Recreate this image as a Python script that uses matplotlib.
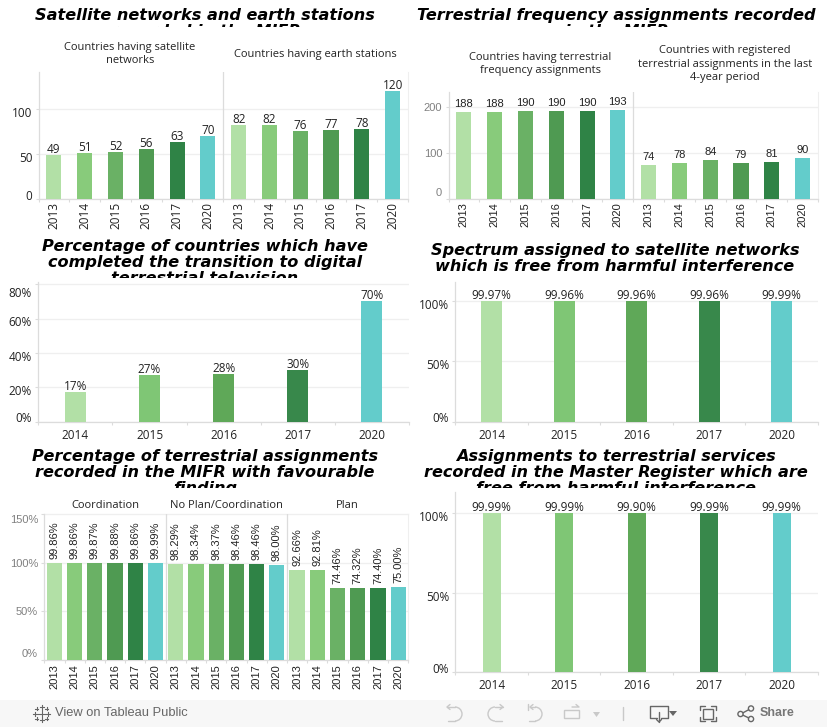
import matplotlib
matplotlib.use('Agg')
import matplotlib.pyplot as plt
from matplotlib.patches import Rectangle, Circle, Polygon, Arc
from matplotlib.transforms import Bbox, ScaledTranslation

W, H = 827, 727

# Data
years6 = ['2013', '2014', '2015', '2016', '2017', '2020']
years5 = ['2014', '2015', '2016', '2017', '2020']

satellite = [49, 51, 52, 56, 63, 70]
earth = [82, 82, 76, 77, 78, 120]
freq_assign = [188, 188, 190, 190, 190, 193]
registered = [74, 78, 84, 79, 81, 90]
digital_tv = [17, 27, 28, 30, 70]
spectrum_free = [99.97, 99.96, 99.96, 99.96, 99.99]
coordination = [99.86, 99.86, 99.87, 99.88, 99.86, 99.99]
no_plan = [98.29, 98.34, 98.37, 98.46, 98.46, 98.00]
plan = [92.66, 92.81, 74.46, 74.32, 74.40, 75.00]
master_free = [99.99, 99.99, 99.90, 99.99, 99.99]

title1 = 'Satellite networks and earth stations\nrecorded in the MIFR'
title2 = 'Terrestrial frequency assignments recorded\nin the MIFR'
title3 = 'Percentage of countries which have\ncompleted the transition to digital\nterrestrial television'
title4 = 'Spectrum assigned to satellite networks\nwhich is free from harmful interference'
title5 = 'Percentage of terrestrial assignments\nrecorded in the MIFR with favourable\nfinding'
title6 = 'Assignments to terrestrial services\nrecorded in the Master Register which are\nfree from harmful interference'

# Colours
six_a = ['#b2e0a6', '#88cb7b', '#6ab165', '#4f9a52', '#2f8346', '#63cccb']
five_b = ['#b2e0a6', '#7fc675', '#5fa858', '#38884b', '#63cccb']
GRID = '#efefef'
AXIS = '#dcdcdc'
INK = '#222222'
GREY = '#808080'

OPEN = 'Open Sans'
ARIAL = 'Liberation Sans'

fig = plt.figure(figsize=(W / 100, H / 100), dpi=100)
fig.patch.set_facecolor('white')

# overlay in pixel coords for titles, headers and footer
page = fig.add_axes([0, 0, 1, 1], zorder=-1)
page.set_xlim(0, W)
page.set_ylim(H, 0)
page.axis('off')


def panel(left, right, top, bottom, ymax, values, labels, colors, width, yticks,
          ylabels, yshift, fmt='{}', rotate=False, rotate_values=False, font=OPEN, ycolor=INK,
          dividers=(), border=False, gap=-1, xpad=2, size=8.5):
    ax = fig.add_axes([left / W, 1 - bottom / H, (right - left) / W, (bottom - top) / H])
    xs = list(range(len(values)))
    ax.bar(xs, values, width=width, color=colors, zorder=3)
    ax.set_xlim(-0.5, len(values) - 0.5)
    ax.set_ylim(0, ymax)

    ax.set_xticks(xs)
    ax.set_xticklabels(labels, rotation=90 if rotate else 0, fontfamily=font, fontsize=size, color=INK)
    ax.set_xticks([x - 0.5 for x in range(len(values) + 1)], minor=True)
    ax.tick_params(axis='x', which='major', length=0, pad=xpad)
    ax.tick_params(axis='x', which='minor', length=2.5, color=AXIS, width=0.8)

    ax.set_yticks(yticks)
    ax.set_yticklabels(ylabels, fontfamily=font, fontsize=size, color=ycolor)
    ax.tick_params(axis='y', length=2.5, color=AXIS, width=0.8, pad=2)
    # tableau nudges the axis labels so they stay inside the pane
    for lab, dy in zip(ax.get_yticklabels(), yshift):
        lab.set_transform(lab.get_transform() + ScaledTranslation(0, -dy / 100, fig.dpi_scale_trans))

    ax.grid(axis='y', color=GRID, linewidth=0.9, zorder=0)
    ax.set_axisbelow(True)
    for side in ['top', 'right']:
        ax.spines[side].set_visible(False)
    if border:
        ax.spines['right'].set_visible(True)
        ax.spines['right'].set_color(GRID)
    for side in ['left', 'bottom']:
        ax.spines[side].set_color(AXIS)
        ax.spines[side].set_linewidth(0.9)
    for d in dividers:
        ax.axvline(d, color=AXIS, linewidth=0.9, zorder=1)

    for x, v in zip(xs, values):
        ax.annotate(fmt.format(v), (x, v), xytext=(0, gap), textcoords='offset pixels',
                    ha='center', va='bottom', rotation=90 if rotate_values else 0,
                    fontfamily=font, fontsize=size, color=INK, zorder=4)
    return ax


def title(x, y, txt, clip_y):
    t = page.text(x, y, txt, ha='center', va='top', fontfamily='DejaVu Sans', fontweight='bold',
                  fontstyle='oblique', fontsize=11.6, color='black', linespacing=1.07,
                  multialignment='center', clip_on=True)
    t.set_clip_box(Bbox([[0, H - clip_y], [W, H]]))


def header(x, y, txt, font=OPEN):
    page.text(x, y, txt, ha='center', va='center', fontfamily=font, fontsize=8, color=INK,
              linespacing=1.35, multialignment='center')


# Top left
panel(38.5, 408, 72, 199, 141, satellite + earth, years6 + years6, six_a + six_a, 0.49,
      [0, 50, 100], ['0', '50', '100'], [-4, 3, 3], rotate=True, dividers=[5.5], border=True)
title(205, 8, title1, 27)
header(130, 54, 'Countries having satellite\nnetworks')
header(315, 54, 'Countries having earth stations')

# Top right
panel(448.5, 818, 92, 199.3, 232, freq_assign + registered, years6 + years6, six_a + six_a, 0.49,
      [0, 100, 200], ['0', '100', '200'], [-7, 0, 0], rotate=True, font=ARIAL, ycolor=GREY,
      dividers=[5.5], border=True, gap=3, size=8)
title(616.5, 8, title2, 27)
header(540, 64, 'Countries having terrestrial\nfrequency assignments')
header(725, 64, 'Countries with registered\nterrestrial assignments in the last\n4-year period')

# Middle left
panel(38.3, 409, 281.7, 421.7, 81.4, digital_tv, years5, five_b, 0.285,
      [0, 20, 40, 60, 80], ['0%', '20%', '40%', '60%', '80%'], [-4.6, 2.7, 2.7, 2.7, 8],
      fmt='{}%', xpad=5)
title(205, 239, title3, 278)

# Middle right
panel(455.3, 818, 281.7, 421.7, 116, spectrum_free, years5, five_b, 0.29,
      [0, 50, 100], ['0%', '50%', '100%'], [-4.6, 2.7, 3], fmt='{:.2f}%', xpad=5)
title(615, 243, title4, 278)

# Bottom left
panel(44.3, 408.3, 514, 660, 150, coordination + no_plan + plan, years6 * 3, six_a * 3, 0.75,
      [0, 50, 100, 150], ['0%', '50%', '100%', '150%'], [-6.7, 0, 0, 4.7], fmt='{:.2f}%',
      rotate=True, rotate_values=True, font=ARIAL, ycolor=GREY, dividers=[5.5, 11.5], border=True,
      gap=4, xpad=3, size=8)
title(205, 449, title5, 488)
header(105, 505, 'Coordination')
header(226, 505, 'No Plan/Coordination')
header(347, 505, 'Plan')
page.plot([44.3, 408.3], [514, 514], color=GRID, linewidth=0.9)

# Bottom right
panel(455.3, 818, 491.7, 672.3, 113.6, master_free, years5, five_b, 0.247,
      [0, 50, 100], ['0%', '50%', '100%'], [-4.6, 2.7, 2.7], fmt='{:.2f}%', xpad=5)
title(616, 449, title6, 488)

# Footer bar with the Tableau controls
page.add_patch(Rectangle((0, 700), W, 27, facecolor='#f7f7f7', edgecolor='none', zorder=5))
page.text(55, 713.5, 'View on Tableau Public', ha='left', va='center', fontfamily=ARIAL,
          fontsize=9.3, color='#666666', zorder=6)
page.text(760, 713.5, 'Share', ha='left', va='center', fontfamily=ARIAL, fontsize=9,
          fontweight='bold', color='#777777', zorder=6)

# tableau logo
for cx, cy, r in [(41.5, 713.5, 3.5), (35, 713.5, 2), (48, 713.5, 2), (41.5, 707, 2), (41.5, 720, 2),
                  (36.5, 708.5, 1.5), (46.5, 708.5, 1.5), (36.5, 718.5, 1.5), (46.5, 718.5, 1.5)]:
    page.plot([cx - r, cx + r], [cy, cy], color='#666666', linewidth=0.8, zorder=6)
    page.plot([cx, cx], [cy - r, cy + r], color='#666666', linewidth=0.8, zorder=6)

ICON_OFF = '#c9c9c9'
ICON_ON = '#666666'


def line(xs, ys, color):
    page.plot(xs, ys, color=color, linewidth=1, solid_capstyle='round', zorder=6)


def arc(cx, cy, w, h, a, b, color):
    # y axis is flipped on the page axes
    page.add_patch(Arc((cx, cy), w, h, theta1=a, theta2=b, color=color, linewidth=1, zorder=6))


# undo
arc(455, 714, 14, 14, -90, 90, ICON_OFF)
line([447, 455], [707, 707], ICON_OFF)
line([450, 447, 450], [704.5, 707, 709.5], ICON_OFF)
line([448, 455], [721, 721], ICON_OFF)
# redo
arc(495, 714, 14, 14, 90, 270, ICON_OFF)
line([495, 503], [707, 707], ICON_OFF)
line([500, 503, 500], [704.5, 707, 709.5], ICON_OFF)
line([495, 502], [721, 721], ICON_OFF)
# revert
arc(535, 714, 14, 14, -90, 90, ICON_OFF)
line([530, 535], [707, 707], ICON_OFF)
line([533, 530, 533], [704.5, 707, 709.5], ICON_OFF)
line([528, 528], [704, 710], ICON_OFF)
line([529, 535], [721, 721], ICON_OFF)
# refresh
page.add_patch(Rectangle((563.5, 710), 15, 8, facecolor='none', edgecolor=ICON_OFF, linewidth=1, zorder=6))
line([572, 579, 576], [707, 707, 704.5], ICON_OFF)
page.add_patch(Polygon([[593, 712], [600, 712], [596.5, 717]], facecolor=ICON_OFF, edgecolor='none', zorder=6))
line([622.5, 622.5], [707, 720], ICON_OFF)
# download
line([657, 650, 650, 668, 668, 661], [718, 718, 706, 706, 718, 718], ICON_ON)
line([659, 659], [712, 722], ICON_ON)
line([656.5, 659, 661.5], [719.5, 722, 719.5], ICON_ON)
page.add_patch(Polygon([[669, 711], [677, 711], [673, 716]], facecolor=ICON_ON, edgecolor='none', zorder=6))
# fullscreen
page.add_patch(Rectangle((703, 709), 10, 10, facecolor='none', edgecolor=ICON_ON, linewidth=1, zorder=6))
line([700, 700, 705], [710, 706, 706], ICON_ON)
line([711, 716, 716], [706, 706, 710], ICON_ON)
line([700, 700, 705], [717, 721, 721], ICON_ON)
line([711, 716, 716], [721, 721, 717], ICON_ON)
# share
for cx, cy in [(740.5, 714), (751, 708.5), (751, 719)]:
    page.add_patch(Circle((cx, cy), 2.6, facecolor='none', edgecolor=ICON_ON, linewidth=1, zorder=6))
line([743, 748.7], [712.8, 709.7], ICON_ON)
line([743, 748.7], [715.2, 717.9], ICON_ON)

fig.savefig('out.png', dpi=100, facecolor='white')
